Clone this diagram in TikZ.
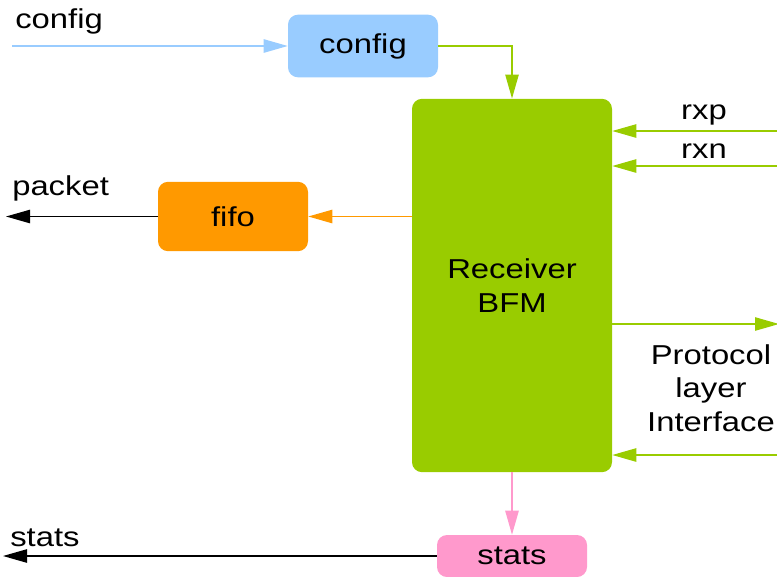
\documentclass[tikz,border=0pt]{standalone}
\usepackage{fontspec}
\setmainfont[FakeStretch=1.2]{Liberation Sans}
\usetikzlibrary{arrows.meta}
\definecolor{cfgblue}{HTML}{99CCFF}
\definecolor{rxgreen}{HTML}{99CC00}
\definecolor{fifoorange}{HTML}{FF9900}
\definecolor{statpink}{HTML}{FF99CC}
\begin{document}
\begin{tikzpicture}[x=0.75pt,y=-0.75pt,
    every node/.style={font=\fontsize{20.5}{24}\selectfont},
    blockstyle/.style={rectangle,rounded corners=7.5pt,minimum width=112.5pt,inner sep=0pt},
    wire/.style={line width=1.1pt,-{Triangle[length=18pt,width=10pt]}},
    tag/.style={inner sep=0pt,anchor=base west}]
\useasboundingbox (0,0) rectangle (777,576);
% blocks
\node[blockstyle,fill=cfgblue,minimum height=47pt] (config) at (363,46) {config};
\node[blockstyle,fill=rxgreen,minimum width=150pt,minimum height=280pt,align=center,font=\fontsize{20.5}{25}\selectfont] (recv) at (512,285.5) {Receiver\\BFM};
\node[blockstyle,fill=fifoorange,minimum height=52pt] (fifo) at (233,216.5) {fifo};
\node[blockstyle,fill=statpink,minimum height=31.5pt] (stats) at (512,556) {stats};
% free ends
\coordinate (cfgin) at (12,46);
\coordinate (pktout) at (6,216.5);
\coordinate (statout) at (3,556);
\coordinate (rxp) at (777,131);
\coordinate (rxn) at (777,166);
\coordinate (prout) at (779,324);
\coordinate (prin) at (777,455);
% labels
\node[tag] (cfgtxt) at (15,28) {config};
\node[tag] (pkttxt) at (12,195) {packet};
\node[tag] (stattxt) at (10,546) {stats};
\node (rxptxt) at (704,115) {rxp};
\node (rxntxt) at (704,151) {rxn};
\node[align=center,font=\fontsize{20.5}{25}\selectfont] (prtxt) at (711,388) {Protocol\\layer\\Interface};
% connectors
\draw[wire,cfgblue] (cfgin) -- (config.west);
\draw[wire,rxgreen] (config.east) -| (recv.north);
\draw[wire,rxgreen] (rxp) -- (rxp -| recv.east);
\draw[wire,rxgreen] (rxn) -- (rxn -| recv.east);
\draw[wire,rxgreen] (prout -| recv.east) -- (prout);
\draw[wire,rxgreen] (prin) -- (prin -| recv.east);
\draw[wire,fifoorange] (fifo.east -| recv.west) -- (fifo.east);
\draw[wire,black] (fifo.west) -- (pktout);
\draw[wire,statpink] (recv.south) -- (stats.north);
\draw[wire,black] (stats.west) -- (statout);
\end{tikzpicture}
\end{document}
